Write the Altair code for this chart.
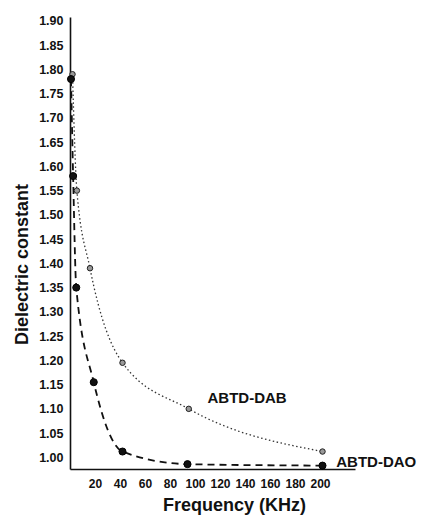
import altair as alt
import pandas as pd

# ---- data ----
dab_freq = [2, 5.5, 16, 42, 95, 202]
dab_eps = [1.79, 1.55, 1.39, 1.195, 1.10, 1.012]

dao_freq = [0.8, 2.5, 5, 19, 42, 94, 202]
dao_eps = [1.78, 1.58, 1.35, 1.155, 1.012, 0.986, 0.983]

x_ticks = [20, 40, 60, 80, 100, 120, 140, 160, 180, 200]
y_ticks = [1.00, 1.05, 1.10, 1.15, 1.20, 1.25, 1.30, 1.35, 1.40, 1.45,
           1.50, 1.55, 1.60, 1.65, 1.70, 1.75, 1.80, 1.85, 1.90]

series_names = ["ABTD-DAB", "ABTD-DAO"]
label_freq = [110, 213]
label_eps = [1.112, 0.980]

dab = pd.DataFrame({"f": dab_freq, "e": dab_eps})
dao = pd.DataFrame({"f": dao_freq, "e": dao_eps})
lab = pd.DataFrame({"f": label_freq, "e": label_eps, "t": series_names})

FONT = "Liberation Sans"

xscale = alt.Scale(domain=[0, 228], nice=False, zero=False)
yscale = alt.Scale(domain=[0.976, 1.908], nice=False, zero=False)

xaxis = alt.Axis(
    values=x_ticks, title="Frequency (KHz)", grid=False, ticks=False, tickSize=0,
    labelPadding=9, labelFont=FONT, labelFontSize=12, labelFontWeight="bold",
    labelColor="#111", domainColor="#111", domainWidth=1.6,
    titleFont=FONT, titleFontSize=18, titleFontWeight="bold", titleColor="#111",
    titleX=164, titleY=41, titleBaseline="alphabetic", titleAnchor="middle",
    labelFlush=False, labelOverlap=False,
)
yaxis = alt.Axis(
    values=y_ticks, format=".2f", title="Dielectric constant", grid=False,
    ticks=False, tickSize=0, labelPadding=7, labelFont=FONT, labelFontSize=12.5,
    labelFontWeight="bold", labelColor="#111", domainColor="#111", domainWidth=1.6,
    titleFont=FONT, titleFontSize=18, titleFontWeight="bold", titleColor="#111",
    titleX=-43, titleY=247, titleBaseline="alphabetic", titleAngle=270,
    titleAnchor="middle", labelOverlap=False, labelFlush=False,
)

X = alt.X("f:Q", scale=xscale, axis=xaxis)
Y = alt.Y("e:Q", scale=yscale, axis=yaxis)

dab_line = alt.Chart(dab).mark_line(
    interpolate="monotone", color="#333", strokeWidth=1.3, strokeDash=[1.5, 2.5]
).encode(x=X, y=Y)
dab_pts = alt.Chart(dab).mark_point(
    shape="circle", filled=True, size=30, color="#999", stroke="#222", strokeWidth=1, opacity=1
).encode(x=X, y=Y)

dao_line = alt.Chart(dao).mark_line(
    interpolate="monotone", color="#111", strokeWidth=1.8, strokeDash=[7, 5]
).encode(x=X, y=Y)
dao_pts = alt.Chart(dao).mark_point(
    shape="circle", filled=True, size=50, color="#111", stroke="#000", strokeWidth=1, opacity=1
).encode(x=X, y=Y)

labels = alt.Chart(lab).mark_text(
    font=FONT, fontSize=15, fontWeight="bold", align="left", baseline="alphabetic", color="#111"
).encode(x=X, y=Y, text="t:N")

chart = alt.layer(dab_line, dao_line, dab_pts, dao_pts, labels).properties(
    width=285, height=452,
    background="white",
    autosize=alt.AutoSizeParams(type="none"),
    padding={"left": 62, "top": 9, "right": 63, "bottom": 48},
).configure_view(stroke=None).configure_axis(labelOverlap=False)

chart.save("out.html", embed_options={"renderer": "svg", "actions": False})
